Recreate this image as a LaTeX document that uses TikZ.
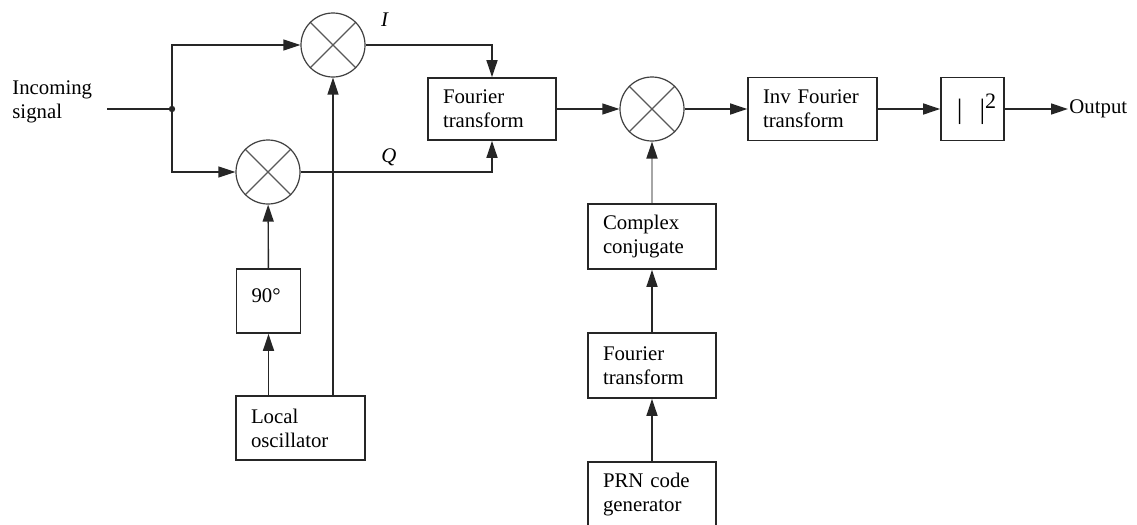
\documentclass[tikz,border=0pt]{standalone}
\usepackage{fontspec}
\setmainfont{Liberation Serif}
\usetikzlibrary{arrows.meta}
\begin{document}
\begin{tikzpicture}[x=0.5pt,y=-0.5pt,
  font=\fontsize{10.4}{12}\selectfont,
  wire/.style={line width=0.7pt, draw=black!85},
  arr/.style={wire, -{Triangle[length=8.5pt,width=5.5pt]}},
  garr/.style={line width=0.9pt, draw=black!35, -{Triangle[length=8.5pt,width=5.5pt,color=black!85]}},
  blk/.style={draw=black!85, line width=0.8pt, rectangle, inner ysep=0pt, inner xsep=7.5pt, align=left},
  mix/.style={circle, draw=black!75, line width=0.6pt, minimum size=32pt, inner sep=0pt,
    path picture={\draw[black!65, line width=0.55pt]
      (path picture bounding box.north west) -- (path picture bounding box.south east)
      (path picture bounding box.south west) -- (path picture bounding box.north east);}},
  lbl/.style={inner sep=0.5pt}
]
\useasboundingbox (0,0) rectangle (1137,525);
\clip (0,0) rectangle (1137,525);
\fill[white] (0,0) rectangle (1137,525);

% text
\node[lbl, anchor=west, align=left, inner sep=0pt] (insig) at (12,102) {Incoming\\signal};
\node[lbl] (lI) at (385,20) {\textit{I}};
\node[lbl] (lQ) at (389,157) {\textit{Q}};

% mixers
\node[mix] (m1) at (333,45) {};
\node[mix] (m2) at (268,172) {};
\node[mix] (m3) at (652,109) {};

% boxes
\node[blk, text width=49pt, minimum height=31pt] (ft1) at (492,109) {Fourier\\transform};
\node[blk, text width=49.5pt, minimum height=31.5pt] (ift) at (812.5,109) {Inv Fourier\\transform};
\node[blk, minimum width=31.5pt, minimum height=31.5pt, align=center, inner xsep=0pt] (abs) at (972.5,109)
  {\hspace{4pt}{\fontsize{14}{14}\selectfont|\hspace{8.6pt}|}\raisebox{5pt}{\fontsize{11}{11}\selectfont 2}};
\node[lbl, anchor=west] (out) at (1068,109) {Output};
\node[blk, text width=17pt, text height=7.5pt, text depth=6.5pt, minimum height=32pt] (ph) at (268.5,301) {90°};
\node[blk, text width=49.5pt, minimum height=32pt] (lo) at (300.5,428) {Local\\oscillator};
\node[blk, text width=49pt, minimum height=32.5pt] (cc) at (652,236.5) {Complex\\conjugate};
\node[blk, text width=49pt, minimum height=32.5pt] (ft2) at (652,365.5) {Fourier\\transform};
\node[blk, text width=49pt, minimum height=32.5pt] (prn) at (652,494.5) {PRN code\\generator};

% connectors
\coordinate (in) at (107,109);
\coordinate (j) at (172,109);
\draw[wire] (in) -- (j);
\draw[arr] (j) |- (m1);
\draw[arr] (j) |- (m2);
\fill[black!85] (j) circle[radius=1.6pt];
\draw[arr] (m1) -| (ft1);
\draw[arr] (m2) -| (ft1);
\draw[arr] (ph) -- (m2);
\draw[arr] (lo.north -| ph) -- (ph);
\draw[arr] (lo.north -| m1) -- (m1);
\draw[arr] (ft1) -- (m3);
\draw[arr] (m3) -- (ift);
\draw[arr] (ift) -- (abs);
\draw[arr] (abs) -- (out);
\draw[garr] (cc) -- (m3);
\draw[arr] (ft2) -- (cc);
\draw[arr] (prn) -- (ft2);
\end{tikzpicture}
\end{document}
